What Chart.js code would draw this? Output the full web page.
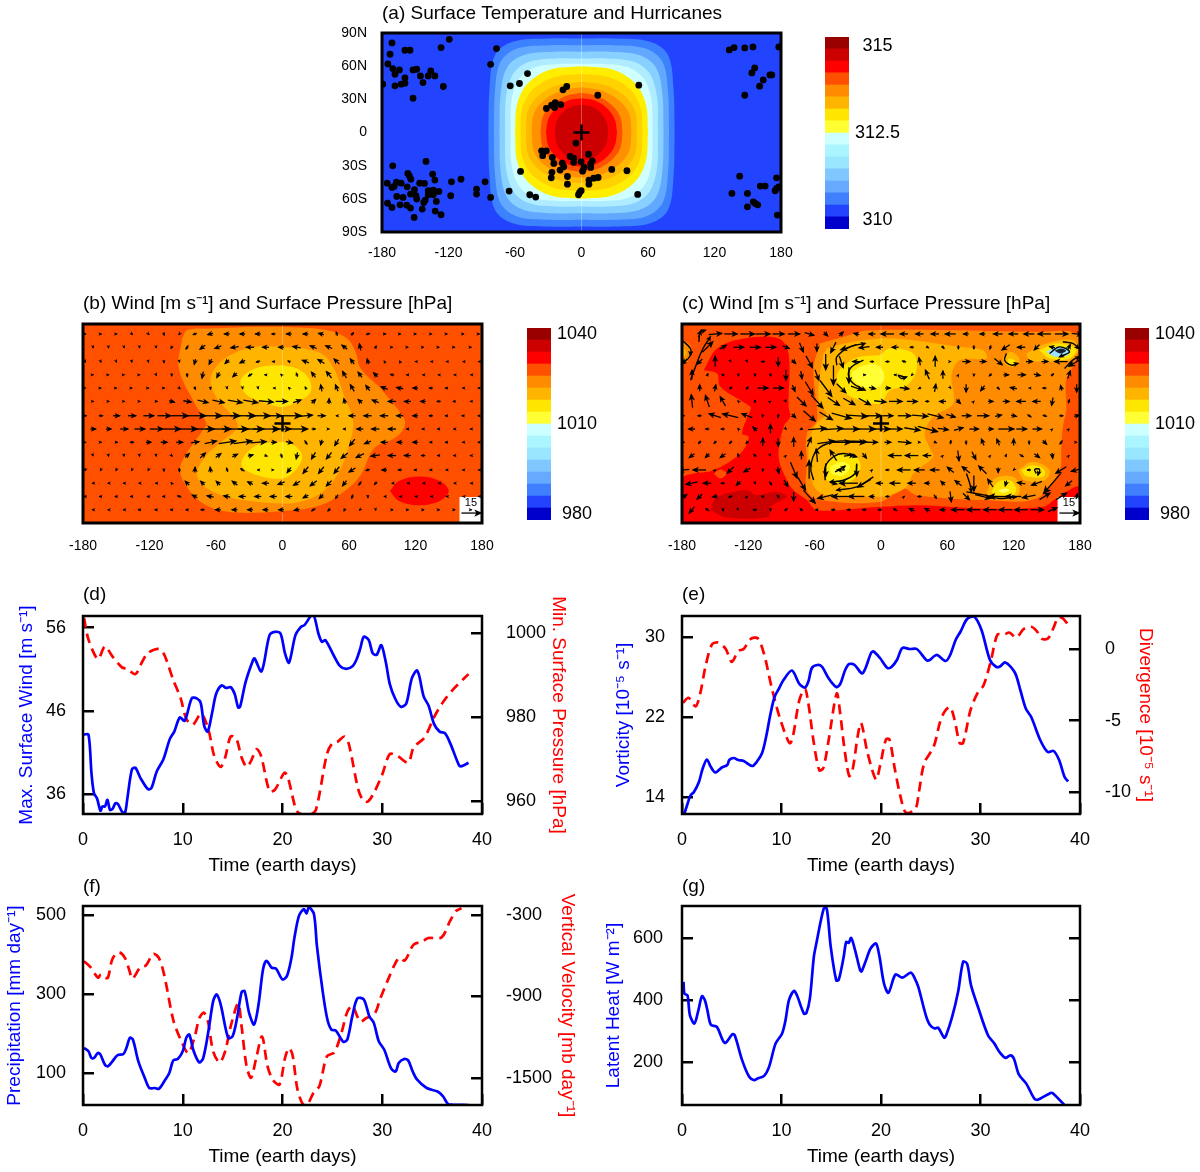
<!DOCTYPE html>
<html>
<head>
<meta charset="utf-8">
<script src="https://cdn.jsdelivr.net/npm/chart.js@4/dist/chart.umd.min.js"></script>
<style>
html,body{margin:0;padding:0;background:#fff;}
canvas{position:absolute;}
</style>
</head>
<body>
<script>
// ---------- tick lists
const lonTicks = [-180, -120, -60, 0, 60, 120, 180];
const latTicks = [-90, -60, -30, 0, 30, 60, 90];
const latLabels = ['90S', '60S', '30S', '0', '30N', '60N', '90N'];
const timeTicks = [0, 10, 20, 30, 40];

// ---------- colour bars (bottom to top)
const barColors = ['#0000cc', '#2244ff', '#4080ff', '#66aaff', '#7fc8ff', '#99e6ff', '#aaf5ff', '#ccffff',
    '#ffff33', '#ffe600', '#ffb400', '#ff8c00', '#ff5000', '#ff0000', '#cc0000', '#990000'];
const tempLevels = [309.74, 310.09, 310.43, 310.78, 311.12, 311.47, 311.81, 312.16, 312.5, 312.85, 313.19, 313.54, 313.88, 314.23, 314.57, 314.92, 315.26];
const pressLevels = [978, 982, 986, 990, 994, 998, 1002, 1006, 1010, 1014, 1018, 1022, 1026, 1030, 1034, 1038, 1042];
const tempBarTicks = [310, 312.5, 315];
const pressBarTicks = [980, 1010, 1040];

// ---------- panel (a): temperature contours, north-east quarter of each band [lon, lat]
const tempBands = [
    ['#3c82ff', [[84,0],[83,40],[78,70],[62,82],[30,85],[0,85]]],
    ['#62a8ff', [[79,0],[78,38],[73,64],[58,76],[28,79],[0,79]]],
    ['#88d0ff', [[74,0],[73,35],[67,59],[52,70],[25,73],[0,73]]],
    ['#b0ecff', [[69,0],[68,33],[61,54],[47,64],[23,67],[0,67]]],
    ['#d0ffff', [[64,0],[63,30],[56,49],[42,59],[20,62],[0,62]]],
    ['#ffee00', [[60,0],[58,26],[48,45],[28,57],[0,60]]],
    ['#ffd200', [[55,0],[53.5,22],[44,39],[25,50],[0,53]]],
    ['#ffb800', [[50,0],[48.5,19],[39,33],[21,43],[0,46]]],
    ['#ff9000', [[45,0],[43,17],[34,29],[18,38],[0,41]]],
    ['#ff5000', [[37,0],[35,14],[27,25],[14,33],[0,36]]],
    ['#ff0000', [[32,0],[30,12],[23,22],[12,29],[0,31]]],
    ['#cc0000', [[24,0],[22.5,10],[17,18],[10,23],[0,25]]]
];
const hurricanes = [[-171,81],[-172.7,70.8],[-174.7,62],[-170.3,57.8],[-164.3,56.6],[-168.3,52.7],[-159.3,74.4],[-154.7,74.4],[-126.7,76.8],[-119.3,84.3],
    [-179.3,43.7],[-168.3,42.2],[-162.7,43.7],[-159.3,44.6],[-159.3,49.4],[-152,31],[-152,56.6],[-148.7,57.2],[-145.3,51.2],[-143,45.2],[-138.3,51.2],[-136,55.7],[-132.3,51.2],[-124.7,41.6],
    [-76.7,75.9],[-82,61.7],[-48.7,53.3],[-56,44.3],[-64.3,42.2],[-13.3,41.6],[-16.7,38.6],[14.7,33.7],[51.7,42.8],[-18.7,25.3],[-23.7,27.1],[-27,24.7],[-24.3,22.6],[-31.7,21.7],[-5,-9.6],
    [-36,-16.6],[-31.7,-16.6],[-35,-21],[-26.3,-22.6],[-25,-28],[-10.3,-21.7],[-7,-23.5],[6.3,-19.6],[-7,-27],[-0.3,-26.5],[9.7,-25.6],[8.3,-28.6],[-17.3,-27.7],[-16,-31],[-19.3,-34],[2.3,-31.6],[1,-35],[8.3,-31.6],[27.3,-33.4],[41,-34.6],
    [-26.7,-36],[-27.3,-41],[-12.7,-39.8],[-12.7,-46.7],[15,-40.7],[11,-41.3],[6.7,-43],[6.7,-46.7],[-55,-35.2],[-0.3,-52.7],[-1.7,-54.2],[-2.7,-56.3],[50.7,-56],[-65.3,-53],[-46.7,-56.3],[-41.3,-58.4],[-82,-58.7],[-87,-44.6],[-94.7,-51.2],[-94.7,-55.7],
    [-170.3,-30.1],[-140.3,-26.2],[-156.7,-37],[-155.3,-39.2],[-154,-42.2],[-134.3,-37.7],[-132.3,-43],[-117.3,-44.6],[-108.7,-42.2],[-175.3,-45.8],[-171,-49.7],[-169,-48.8],[-167,-44.9],[-162.7,-45.8],[-157.3,-49.1],[-146,-45.8],[-141.7,-46.1],[-150.7,-51.8],[-154.3,-55.7],[-149.3,-57.2],[-148.7,-60.2],[-138.3,-52.7],[-138.3,-56.3],[-133.7,-52.1],[-133.7,-56.3],[-128.7,-53.3],[-118,-57.2],[-166.7,-57.8],[-161,-58.7],[-175,-63.9],[-171,-67.8],[-163.7,-65.4],[-157.7,-65.7],[-154.3,-68.4],[-143.7,-69.3],[-142.3,-63.3],[-141,-61.1],[-131,-62.3],[-132,-71.1],[-126.7,-74.4],[-151,-76.8],
    [133.3,74.7],[137.7,76.8],[147.3,76.5],[154.7,77.4],[178,77.4],[156.3,58.4],[153.7,53.9],[170,52.1],[171.7,52.1],[164,47.6],[160.7,41.9],[147.3,33.7],
    [142.7,-39.5],[135.7,-55.1],[149.7,-55.1],[161.3,-48.5],[165.7,-48.5],[176,-41],[178,-49.1],[176,-50.6],[174.7,-52.7],[155,-62.7],[156.7,-64.2],[159,-65.4],[149.7,-67.2],[176.7,-74.7]];

// ---------- panel (b): pressure regions [lon, lat]
const bRegions = [
    ['#ff8c00', [[-90.5,77],[-86,84.4],[-65,85.9],[-20,87.4],[-2,87.4],[40.3,84.4],[58.3,76.9],[65.9,64.8],[70.4,49.7],[88.4,31.7],[109.5,4.5],[109.5,-4.5],[100.5,-13.6],[82.4,-22.6],[70.4,-46.7],[55.3,-61.8],[34.3,-73.9],[-1.8,-79.3],[-50,-79.9],[-74,-70.8],[-89,-52.8],[-92,-37.7],[-71,-4.5],[-68.6,0],[-80,19.6],[-93.5,49.7],[-90.5,77]]],
    ['#ffb400', [[0,69.3],[-25.9,69.3],[-49.9,60.3],[-62,48.2],[-65,37.7],[-59,22.6],[-47,9],[-41,1.5],[-41,-4.5],[-53,-15],[-71,-31.7],[-77,-46.7],[-68,-58.8],[-44,-67.8],[0,-72.4],[16.2,-70.8],[34.3,-63.3],[49.3,-46.7],[58.3,-25.6],[63.8,1.5],[55.3,25.6],[47.8,46.7],[37.3,61.8],[19.2,67.8],[0,69.3]]],
    ['#ffe600', [[0,52.8],[-19.8,51.3],[-34.9,43.7],[-37.9,36.2],[-31.9,25.6],[-13.8,18.1],[0,15],[13.2,19.6],[25.3,28.6],[23.8,40.7],[13.2,49.7],[0,52.8]]],
    ['#ffe600', [[0,-16.6],[-22.9,-19.6],[-34.9,-30.1],[-36.4,-39.2],[-22.9,-46.7],[0,-49.7],[13.2,-40.7],[17.7,-28.6],[10.2,-19.6],[0,-16.6]]],
    ['#ff0000', [[97,-61],[105,-52],[123.6,-48],[142,-52],[150,-61],[142,-70],[123.6,-74],[105,-70],[97,-61]]]
];

// ---------- panel (c): pressure regions [lon, lat]
const cRegions = [
    ['#ff0000', [[-160.3,48.2],[-148.3,67.8],[-124.2,76.9],[-92.6,76.9],[-83.6,63.3],[-83.6,15.1],[-82.1,6],[-88.1,-3],[-92.6,-30.1],[-85.1,-51.3],[-79.1,-60.3],[-67.1,-69.3],[-58,-78.4],[-0.9,-75.4],[35.2,-73.9],[95.3,-76.9],[146.5,-75.4],[158.5,-67.8],[179.5,-57.3],[180,-90],[-180,-90],[-180,-50],[-169.3,-45.2],[-151.3,-42.2],[-127.2,-27.1],[-119.7,-12.1],[-125.7,-9],[-118.2,12.1],[-118.2,15.1],[-145.3,33.2],[-148.3,45.2],[-160.3,48.2]]],
    ['#ff8c00', [[-55,72.4],[-61,51.3],[-59.5,27.1],[-58,3],[-67.1,-9],[-67.1,-36.2],[-67.1,-60.3],[-55,-69.3],[-0.9,-70.8],[20.2,-58.8],[32.2,-64.8],[95.3,-69.3],[140.5,-67.8],[161.5,-42.2],[163,-24.1],[164.5,-3],[167.5,12.1],[167.5,39.2],[173.5,51.3],[178,63.3],[176.5,81.4],[140.5,82.9],[-9.9,84.4],[-34,78.4],[-55,72.4]]],
    ['#ffb400', [[-52,63.3],[-46,69.3],[-0.9,76.9],[29.2,75.4],[71.3,69.3],[92.3,66.3],[95.3,58.8],[71.3,57.3],[63.8,43.7],[65.3,18.1],[47.2,6],[39.7,-9],[44.2,-22.6],[47.2,-30.1],[29.2,-45.2],[23.2,-57.3],[8.1,-64.8],[-9.9,-66.3],[-18.9,-64.8],[-43,-66.3],[-58,-60.3],[-64.1,-45.2],[-65.6,-27.1],[-64.1,-12.1],[-58,0],[-49,9],[-55,15.1],[-56.5,33.2],[-52,63.3]]],
    ['#ffe600', [[-0.9,61.8],[-18.9,60.3],[-31,54.3],[-40,43.7],[-35.5,30.1],[-18.9,21.1],[-0.9,18.1],[8.1,30.1],[23.2,34.7],[32.2,48.2],[29.2,63.3],[8.1,67.8],[-0.9,61.8]]],
    ['#ffff33', [[-18.9,51.3],[-26.5,45.2],[-22,36.2],[-6,31.7],[2,38],[2,47],[-6,54],[-18.9,51.3]]],
    ['#ffe600', [[-49,-36.2],[-37,-27.1],[-22,-30.1],[-18.9,-42.2],[-31,-54.3],[-46,-52.8],[-52,-45.2],[-49,-36.2]]],
    ['#ffff33', [[-46,-39.2],[-35.5,-34.7],[-28,-39.2],[-34,-46.7],[-44.5,-45.2],[-46,-39.2]]],
    ['#ffb400', [[95.3,-63.3],[102.9,-49.7],[119.4,-48.2],[125.4,-57.3],[122.4,-66.3],[101.4,-67.8],[95.3,-63.3]]],
    ['#ffe600', [[99.8,-61.8],[105.9,-52.8],[116.4,-51.3],[122.4,-58.8],[119.4,-64.8],[104.4,-64.8],[99.8,-61.8]]],
    ['#ffff66', [[105.9,-60.3],[113.4,-58.8],[116.4,-60.3],[110.4,-62.7],[105.9,-60.3]]],
    ['#ffb400', [[123.9,-42.2],[137.4,-34.7],[152.5,-42.2],[148,-51.3],[129.9,-51.3],[123.9,-42.2]]],
    ['#ffe600', [[126.9,-42.2],[137.4,-37.7],[148,-42.2],[146.5,-48.2],[131.4,-47.6],[126.9,-42.2]]],
    ['#ffb400', [[131.4,63.3],[149.5,72.4],[173.5,75.4],[178.6,66.3],[170.5,57.3],[152.5,55.8],[134.4,57.3],[131.4,63.3]]],
    ['#ffe600', [[143.5,66.3],[158.5,72.4],[176.5,67.8],[170.5,58.8],[152.5,58.8],[143.5,66.3]]],
    ['#a0e0ff', [[149.5,64.8],[158.5,69.3],[170.5,66.9],[169,61.8],[157,60.3],[149.5,64.8]]],
    ['#112233', [[157,65.7],[163,67.8],[167.5,65.7],[162.1,63.3],[157,65.7]]],
    ['#ffb400', [[110.4,60.3],[117.9,64.8],[125.4,57.3],[119.4,51.3],[111.9,54.3],[110.4,60.3]]],
    ['#ffe600', [[114.9,58.8],[120.9,57.3],[119.4,53.4],[114.9,54.9],[114.9,58.8]]],
    ['#ff8c00', [[-180,75.4],[-173.8,72.4],[-170.8,64.8],[-175.3,55.8],[-180,54.3]]],
    ['#ffb400', [[-180,71],[-176,64],[-180,58]]],
    ['#cc0000', [[-154.3,-78.4],[-149.8,-67.8],[-133.2,-61.8],[-121.2,-60.3],[-112.2,-64.8],[-95.6,-61.8],[-85.1,-66.3],[-100.2,-75.4],[-101.7,-84.4],[-139.2,-85],[-154.3,-78.4]]],
    ['#ff5000', [[-151.3,-45.2],[-145.3,-41.6],[-139.8,-45.2],[-145.3,-49.7],[-151.3,-45.2]]]
];

// ---------- wind fields, m/s, rows north to south; rows alternate between the two longitude lists
const windLats = [81, 69, 56, 44, 32, 20, 7, -5, -17, -29, -42, -54, -66, -78];
const windLonsA = [-178,-164,-150,-136,-121,-107,-93,-79,-65,-50,-36,-22,-8,6,21,35,49,63,77,92,106,120,134,148,163,177];
const windLonsB = [-171,-157,-143,-129,-114,-100,-86,-72,-58,-43,-29,-15,-1,13,28,42,56,70,84,99,113,127,141,155,170];
const bU = [
    [1,1,1,1,1,.5,-1,-3,-4,-4,-4,-4,-3,-4,-4,-4,-1,2,3,2,1,1,1,1,1,1],
    [.2,.2,.2,.2,.2,-1,-2,-4,-5,-6,-6,-5,-4,-6,-5,-5,-4,-1,1,.5,.5,.5,.5,.5,.5],
    [.5,.5,.5,.2,.2,.2,.2,-1,-2,-3,-4,-3,-2,-2,-5,-5,-4,-3,-1,-.5,-.5,-.5,-.5,-.5,-.5,-.5],
    [.5,.5,.5,.5,.5,.2,.2,-1,-2,-3,-3,-2,-1,-1,-3,-4,-3,-3,-3,-3,-2,-1,-1,-.5,-.5],
    [.5,.5,.5,.5,.5,1,1,1,.2,.2,.2,.2,-.5,-1,-1,-1,-2,-3,-3,-5,-5,-4,-3,-2,-1,-1],
    [1,1,1,1,2,4,6,8,9,11,11,11,9,6,3,.2,-1,-3,-5,-6,-5,-4,-3,-2,-1],
    [2,3,5,6,8,10,13,16,17,19,19,18,12,18,10,6,-1,-5,-6,-6,-5,-4,-3,-2,-2,-1],
    [4,4,6,8,10,13,15,17,19,20,20,20,14,16,3,.3,-2,-5,-6,-6,-2,-2,-2,-1,-1],
    [1,1,2,3,4,5,5,6,9,13,14,12,4,5,2,-1,-3,-4,-5,-5,-4,-4,-2,-2,-1,-1],
    [.2,.2,.2,.2,.2,1,3,4,4,4,4,2,1,-1,-3,-4,-5,-6,-7,-6,-5,-3,-2,-1,-1],
    [-.5,-.5,-.5,-.5,-.5,.2,.2,.2,-.5,-1,-3,-1,.3,-3,-4,-4,-4,-5,-3,-4,-3,-2,-2,-1,-1,-.5],
    [-1,-1,-1,-1,-1,-1,-3,-3,-3,-4,-4,-5,-5,-5,-5,-4,-3,-2,-2,-.5,-.5,-.5,-.5,-.5,-.5],
    [-2,-2,-2,-2,-2,-2,-3,-4,-5,-5,-5,-5,-5,-5,-4,-3,-2,-1,.2,-.5,-.5,-.5,-.5,-.5,-.5,-.5],
    [-1,-1,-1,-2,-2,-2,-2,-3,-4,-4,-4,-4,-4,-4,-3,-2,-1,-1,.2,1,1,1,1,1,1]
];
const bV = [
    [0,0,0,-1,-1,-2,-1,-1,-1,0,0,0,0,0,0,1,3,2,1,0,0,0,0,0,0,0],
    [-1,-1,-1,-1,-1,-2,-3,-3,-2,-1,0,0,0,1,2,2,3,5,2,0,0,0,0,0,0],
    [-1,-1,-1,-1,-1,-2,-1,-4,-4,-3,-2,-1,0,1,2,3,4,4,4,1,1,0,0,0,0,0],
    [0,0,0,0,-1,-2,-3,-5,-4,-3,-2,0,1,3,4,5,5,4,3,1,0,0,0,0,0],
    [0,0,0,0,0,0,-1,-2,-2,-1,-1,-1,0,1,2,5,5,5,4,2,1,0,0,0,0,0],
    [0,0,0,0,0,-1,-1,-2,-2,-2,-2,-1,0,2,3,4,4,3,2,0,0,0,0,0,0],
    [0,0,0,0,0,0,0,0,0,0,0,0,0,0,1,0,0,0,0,0,0,0,0,0,0,0],
    [0,0,0,0,0,0,0,0,0,0,0,0,0,0,0,0,0,0,0,0,0,0,0,0,0],
    [0,0,0,0,0,0,0,1,2,2,2,1,0,-1,-3,-4,-5,-5,-2,0,0,0,0,0,0,0],
    [-.5,-1,-1,-1,-1,-1,3,4,3,2,1,-1,-3,-5,-5,-5,-4,-3,-1,0,0,0,0,0,0],
    [-1,-1,-1,-1,-1,-2,-3,4,4,3,2,0,0,-4,-5,-5,-5,-3,-1,0,0,0,0,0,0,0],
    [0,0,0,0,0,1,3,3,3,3,2,0,-2,-3,-4,-4,-4,-3,-2,0,0,0,0,0,0],
    [0,0,0,0,0,0,1,2,1,1,0,0,0,0,-2,-3,-3,-3,-2,0,0,0,0,0,0,0],
    [0,0,0,0,0,0,0,0,0,0,0,0,0,-1,-2,-2,-2,-1,-1,0,0,0,0,0,0]
];
const cU = [
    [0,2,10,10,11,11,9,9,7,3,3,-4,-5,-10,-6,-6,-6,-8,-4,-4,-7,-7,-8,-10,10,8],
    [0,8,5,8,8,8,5,3,0,-4,-12,-8,-5,-5,-3,2,2,0,0,-1,-6,-6,-4,-4,2],
    [-5,-4,0,.3,.3,3,0,3,5,0,3,-6,-3,-3,-3,-1,0,.3,6,5,6,0,5,5,-10,-12],
    [0,1,-2,0,0,1,0,1,3,0,0,2,0,-2,-1,-3,0,.3,-.3,-2,4,6,5,2,2],
    [0,0,1,2,2,8,8,2,6,9,7,9,5,4,7,-2,1,.3,0,-3,2,-5,-.5,-3,-1,0],
    [-1,-3,-4,-1,0,.5,.5,7,9,9,9,9,9,10,8,-3,-5,3,.3,4,5,-7,-6,-1,1],
    [.3,-3,-9,-12,-8,-.5,-.5,3,9,10,15,16,14,8,10,12,12,7,7,9,5,4,3,3,3,4],
    [-5,-3,-3,-1,-3,0,.5,-2,14,14,15,16,15,10,12,15,8,7,7,4,12,8,7,.3,.3],
    [.3,-2,-2,-2,-2,0,.3,0,3,13,14,13,8,5,10,1,2,.3,.3,-2,-2,0,.3,3,-2,.3],
    [-4,-3,-4,-1,-2,.3,.3,0,-1,-5,8,3,0,-10,-10,-6,.3,1,3,.3,1,3,4,.5,.3],
    [-8,-10,.3,-5,-5,-.5,1,5,0,0,-6,0,.3,-3,-10,-8,-7,-5,-6,-6,0,-.5,-3,0,-8,-8],
    [-9,-6,-3,-3,.3,2,3,6,0,5,-14,-10,-5,-8,-6,-4,-3,-5,0,-4,-1,-6,-8,-13,-5],
    [4,-4,-4,-3,.3,-2,-2,0,9,-12,-14,-12,-4,-3,.3,-3,2,1,5,12,-14,-12,-10,8,8,1],
    [-4,-3,.3,.3,-3,.3,2,-2,-2,-3,-3,-3,-3,-3,-4,-4,-4,-10,-10,-10,-10,-10,10,7,0]
];
const cV = [
    [0,5,1,0,0,0,0,0,-2,-3,3,1,0,0,0,0,0,0,0,0,0,0,0,0,0,-1],
    [0,8,3,0,0,0,-2,-7,-6,-8,-4,-1,0,0,0,-1,-2,-3,-3,-3,-4,0,-4,1,4],
    [-4,-4,8,-.5,-.5,0,-7,-3,-9,-12,-9,0,0,0,1,6,8,0,0,0,-5,0,0,0,0,-7],
    [7,2,1,-2,-2,-2,-8,-6,-8,-15,-12,0,0,0,-1,7,6,.5,-2,-2,0,0,-1,2,6],
    [0,5,5,2,2,0,0,-5,-10,-12,-7,-3,-1,0,-1,-1,6,-.3,-6,-4,-2,1,0,0,4,-6],
    [10,9,7,1,2,.3,-.5,-7,-10,-6,-5,-5,-1,0,0,0,0,-3,.3,0,0,0,0,-6,3],
    [0,0,3,3,3,-2,-3,-3,-8,-6,-4,-1,0,0,0,-1,-3,-2,0,0,1,-1,-2,-1,0,1],
    [0,0,0,1,3,7,-.5,-1,1,1,0,0,0,0,-2,-4,-1,2,0,0,0,0,0,.3,.3],
    [0,-2,-2,-2,-2,6,-6,7,7,2,0,0,0,0,-1,0,-1,3,-3,5,5,5,-3,-3,-3,0],
    [-3,-3,-3,3,2,-.5,.3,6,10,8,1,-4,0,0,0,0,.3,-8,-6,.3,2,-2,-3,-4,.3],
    [-1,0,.3,-5,-3,-2,-5,-12,14,-10,0,-9,.3,0,0,0,0,4,5,6,-4,-.5,0,0,-5,-2],
    [-2,0,0,-3,-1,-3,-5,-10,0,-1,0,-6,0,0,0,0,3,4,-12,6,-4,1,-3,-15,-4],
    [3,-4,-1,-1,.3,1,2,-7,-10,-3,0,0,0,0,.3,0,-3,-8,-5,-3,0,0,-2,5,5,4],
    [-5,2,-2,-.3,0,-2,2,2,0,0,0,0,0,2,2,2,0,0,0,0,0,0,0,3,0]
];
// curved vectors in (c), [lon, lat] polylines ending at the arrow head
const cCurls = [
    [[-15.9,57.3],[-26.5,51.3],[-29.5,43.7],[-25,36.2],[-14.4,30.1]],
    [[-61,-51.3],[-63.5,-39.2],[-58,-24.1],[-43,-16.6],[-25,-16],[-12.9,-16.6]],
    [[-6.9,-48.2],[-22,-57.3],[-40,-60.3]],
    [[-50.5,-51.3],[-50.5,-39.2],[-43,-30.1],[-34,-27.1],[-22,-30.1]],
    [[-22,-36.2],[-23.5,-45.2],[-34,-51.3],[-46,-52.8]],
    [[-41.5,-43.7],[-35.5,-40.7],[-32.5,-38.6]],
    [[-164.8,73.9],[-163.3,82.9],[-158.8,84.4]],
    [[-172.3,39.2],[-167.8,51.3],[-161.8,66.3],[-154.3,78.4]],
    [[-170.8,64.8],[-175,58],[-180,55]],
    [[-180,75.4],[-172.3,67.8],[-172.3,61.8]],
    [[-40,52.8],[-40,60.3],[-28,69.3],[-14.4,72.4]],
    [[113.4,63.3],[111.9,57.3],[117.9,52.8],[123.9,54.3]],
    [[164.5,73.9],[173.5,72.4],[179,67.8]],
    [[166,49.7],[173.5,57.3],[179.5,60.3]],
    [[152.5,63.3],[161.5,69.3],[170.5,64.8],[161.5,60.3]],
    [[20.2,42.2],[15.6,43.7],[18.6,40.7],[23.2,42.2]],
    [[140.5,-45.2],[139,-41.6],[143.5,-41.6],[142,-46.7]],
    [[77.3,-61.8],[93.8,-64.8],[107.4,-67.8],[122.4,-66.3]],
    [[77.3,-45.2],[80.3,-54.3],[81.8,-61.8]]
];
const refArrow = {x: 170, y: -81, u: 15, v: 0};
const refBox = [[159.7,-66.5],[180,-66.5],[180,-90],[159.7,-90],[159.7,-66.5]];
const meridian = [[0,-90],[0,90]];

// ---------- time series
const windT = [.1,.55,.85,1.1,1.4,1.75,1.95,2.2,2.45,2.7,2.95,3.25,3.5,3.9,4.2,4.45,4.9,5.25,5.75,6.5,6.85,7.4,8.05,8.7,9.15,9.7,10.2,10.9,11.4,11.8,12.15,12.5,12.95,13.35,13.9,14.35,14.8,15.2,15.55,15.75,16.3,17.05,17.2,17.9,18.7,19.25,19.8,20.25,20.65,21.3,21.85,22.2,23.05,23.6,23.95,24.3,25.2,25.75,26.4,27.05,27.4,27.8,28.15,28.65,29.05,29.45,29.9,30.35,30.75,31.3,31.85,32.4,32.95,33.45,33.7,34.15,34.65,35.2,35.75,36.3,36.85,37.7,37.95,38.65];
const windV = [43.15,43.15,38.5,36.1,35.5,34,34.5,34.5,35.3,34.1,34.2,34.9,34.8,33.9,33.7,35.5,38.95,39.15,37.95,36.6,36.7,38.75,40.15,42.6,43.5,45.2,44.8,47.5,47.5,46.95,44.2,43.5,45.8,48.05,49.05,48.75,48.85,48.05,46.4,46.5,49.45,52.1,52.3,50.75,55.1,55.5,55.3,52.9,51.8,55.1,56.1,56.3,57.6,55.3,54.3,54.5,52.5,51.4,51.05,51.4,52.1,53.5,54.9,54.5,52.9,52.75,53.9,51.9,49.25,47.45,46.5,46.85,49.85,50.85,50.25,47.75,46.6,44.4,43.5,43.3,42,39.45,39.35,39.75];
const pressT = [.1,.55,1.5,2.2,2.95,3.9,4.45,5.25,5.95,6.5,7.6,8.15,9.05,9.8,10.35,11,11.85,12.6,13.15,13.8,14.25,14.8,15.35,15.9,16.4,16.85,17.4,17.85,18.7,19.25,20.2,20.55,21.3,21.65,22.7,23.35,24.45,25,25.55,26.2,26.65,27.6,28.15,28.6,29.25,30,30.75,31.5,32.6,33.15,34.25,35.2,36.1,37.2,38.65];
const pressV = [1003.6,998.4,993.8,996.8,994.4,991.8,991.4,990.2,993.2,995.2,996.2,994.8,988.8,984.4,979.6,978.2,980.8,976.8,970.8,968.2,970.4,975.4,975,970.4,968.2,969.6,972.4,970.8,962.4,962.8,966.8,965.6,958.4,957.2,956.8,958,971.2,973.8,974.2,975.4,973.6,962.8,960,960,962.4,966.4,971.2,970.8,969.2,972.8,975.2,980,983.6,986.8,990.2];
const vortT = [.2,.5,.85,1.2,1.7,2.05,2.5,2.9,3.35,4,4.55,4.75,5.2,5.65,6.2,7.05,7.5,8.05,8.45,8.9,9.3,9.75,10.2,11.05,11.8,12.35,12.7,13.05,13.6,14.05,14.75,15.5,15.9,16.4,16.8,17.35,18.1,18.45,19,19.25,19.9,20.65,21.05,21.6,22.15,22.9,23.6,24.55,24.9,25.3,25.65,26.5,26.95,27.5,28,28.65,29.35,30.1,30.95,31.6,31.95,32.5,33.45,34,34.55,35.1,36,36.75,37.35,37.9,38.45,38.8];
const vortV = [12.2,13.15,14.15,14.5,15.5,16.75,17.75,17,16.45,16.95,17.2,17.7,17.9,17.7,17.6,17.1,17.5,18.4,20,22.35,24,24.85,25.7,26.65,25.3,24.95,25.55,26.9,27.2,27.05,25.85,25,25.3,26.7,27.3,27.2,26.35,26.9,28.4,28.55,27.9,26.9,27,27.7,28.9,28.8,28.8,27.7,27.7,28.05,28.2,27.6,28.2,29.7,30.55,31.8,32.05,30.7,27.7,27,27.05,27.45,26.45,24.7,22.85,22,19.7,18.5,18.6,17.7,16,15.55];
const divT = [.1,.65,1.35,1.8,2.35,3,3.65,4.4,5,5.65,6.2,6.9,7.6,8.25,9,9.9,10.9,11.8,12.35,12.7,13.25,13.8,14.2,14.75,15.55,15.9,16.3,16.8,17.15,17.65,18,18.65,19.5,19.9,20.5,20.85,21.4,21.95,22.5,23.45,23.8,24.35,25.3,25.95,26.4,26.95,27.4,27.9,28.25,29,29.75,30.3,31.05,31.7,32.35,32.9,33.6,34.35,35.1,35.65,36.2,36.8,37.35,37.8,38.25,38.8];
const divV = [-3.75,-3.4,-4,-3.2,-1.25,.3,.45,0,-.9,-.15,0,.7,.75,-.35,-2.65,-4.95,-6.55,-3.55,-2.75,-3.8,-6.55,-8.45,-8.3,-6.3,-3.1,-4.5,-6.8,-8.85,-8.4,-6.1,-5.15,-7.25,-9.1,-8.15,-6.3,-6.3,-8.4,-10.25,-11.4,-11.15,-10,-7.95,-6.8,-5.05,-4.35,-4.05,-4.95,-6.55,-6.55,-4.25,-3,-2.55,-.8,1,1,1.15,.8,1.4,1.55,1.25,.7,.75,1.5,2.2,2.15,1.7];
const precipT = [.1,.55,.85,1.1,1.5,1.75,2.2,2.5,2.95,3.45,4.05,4.35,4.7,5,5.55,6.2,6.65,7.2,7.6,8.15,8.65,9.05,9.5,10,10.35,10.65,11.1,11.65,12.05,12.6,13.05,13.4,13.8,14.55,15,15.45,15.9,16.2,16.65,17.15,17.6,18.05,18.4,18.9,19.35,20,20.45,20.9,21.2,21.65,22.15,22.4,22.65,23.15,23.45,24.05,24.5,24.9,25.35,26.1,26.5,27,27.5,28.15,28.7,29.15,29.65,30.2,30.9,31.35,31.65,32.2,32.6,33.05,33.5,34.45,35.55,36.1,36.65,38.65];
const precipV = [163.5,155,138,138,151,146.5,121,117,129.5,145,148,163.5,189,185,129.5,87,62,62,60,79,100,132,135.5,155,189,197.5,155,127,138,210,282,299,274,189,193,240,305,307.5,252.5,223,274,363,384,367,364.5,337,346,392,443,498,515,504,519.5,502.5,422,303,235.5,210,207.5,179,185,244,289,286.5,244,227,180.5,159,111,104,125.5,135.5,132,104,83,62,53,41,21,19];
const omegaT = [.1,.75,1.5,1.8,2.2,2.5,2.95,3.6,4.2,4.65,4.95,5.75,6.3,7.05,7.6,8.15,9.05,9.8,10.55,11.2,11.65,12.1,12.5,13.05,13.7,14.25,14.8,15.55,15.9,16.4,16.85,17.4,17.95,18.5,19.05,19.7,20.25,20.65,21,21.5,22.05,22.5,23.15,23.7,24.45,25.2,25.9,26.5,27,27.8,28.35,29.25,29.8,30.55,31.2,31.7,32.25,33.15,34.05,34.6,35.95,36.8,37.4,37.95];
const omegaV = [-641,-685,-762,-738,-762,-762,-624,-575,-616,-709,-770,-685,-672,-587,-616,-745,-1074,-1220,-1317,-1196,-1062,-1020,-1074,-1305,-1386,-1305,-1123,-952,-1123,-1415,-1500,-1342,-1196,-1415,-1517,-1549,-1354,-1281,-1330,-1585,-1695,-1695,-1605,-1561,-1342,-1312,-1171,-1013,-972,-1086,-1062,-1025,-916,-782,-672,-616,-636,-519,-495,-470,-465,-344,-271,-251];
const heatT = [.15,.25,.55,.8,1.25,1.65,2,2.3,2.55,2.9,3.5,4.3,5.05,5.3,6.05,6.75,7.25,7.55,8.25,8.75,9.4,10.05,10.4,10.75,11.25,11.55,12.25,12.5,12.85,13.25,13.5,14.25,14.55,14.95,15.5,15.75,16.25,16.5,16.75,17,17.4,17.9,18.05,18.55,18.95,19.5,19.85,20.3,20.75,21.45,22.15,23,23.4,23.75,24.5,24.9,25.4,25.75,26.35,26.55,27.15,27.75,28.25,28.65,29.05,29.75,30.75,31.4,31.9,32.5,33,33.35,33.85,34.6,35.4,35.75,37.05,37.3,38.55];
const heatV = [458,420,415,350,324,367,412,399,367,320,313,261,289,286,205,152,141,146,155,184,259,291,334,399,429,415,356,358,404,539,582,695,695,571,463,465,539,587,584,600,560,496,492,533,566,582,539,453,423,482,472,488,469,442,351,320,308,310,278,286,345,426,523,517,447,377,286,259,232,213,221,211,160,130,82,78,100,98,57];

// ---------- helpers
const FONT = '"Liberation Sans", Arial, sans-serif';
function newCanvas(x0, y0, x1, y1) {
    const c = document.createElement('canvas');
    c.width = x1 - x0;
    c.height = y1 - y0;
    c.style.left = x0 + 'px';
    c.style.top = y0 + 'px';
    c.style.width = (x1 - x0) + 'px';
    c.style.height = (y1 - y0) + 'px';
    document.body.appendChild(c);
    return c.getContext('2d');
}
function pts(a, b) { return a.map((v, i) => ({x: v, y: b[i]})); }
function poly(list) { return list.map(p => ({x: p[0], y: p[1]})); }
function mirror(q) {
    const back = q.slice().reverse();
    return poly(q.concat(back.map(p => [-p[0], p[1]])).concat(q.map(p => [-p[0], -p[1]])).concat(back.map(p => [p[0], -p[1]])));
}
function setTicks(list) { return s => { s.ticks = list.map(v => ({value: v})); }; }
// fixed scale box so the plot rectangle lands where it should
function noPad(s) { s.paddingTop = 0; s.paddingBottom = 0; s.paddingLeft = 0; s.paddingRight = 0; }
function fixW(w) { return s => { s.width = w; noPad(s); }; }
function fixH(h) { return s => { s.height = h; noPad(s); }; }
function region(color, data, tension) {
    return {region: true, regionColor: color, data: data, showLine: true, borderWidth: 0, pointRadius: 0, tension: tension === undefined ? 0.35 : tension};
}
function windSet(U, V) {
    const d = [];
    windLats.forEach((lat, r) => {
        const lons = r % 2 ? windLonsB : windLonsA;
        lons.forEach((lon, i) => d.push({x: lon, y: lat, u: U[r][i], v: V[r][i]}));
    });
    return {arrows: true, data: d, pointRadius: 0};
}
function drawHead(ctx, x, y, ang, s) {
    ctx.save();
    ctx.translate(x, y);
    ctx.rotate(ang);
    ctx.scale(s, s);
    ctx.beginPath();
    ctx.moveTo(1.5, 0);
    ctx.lineTo(-4.5, -2.6);
    ctx.lineTo(-3, 0);
    ctx.lineTo(-4.5, 2.6);
    ctx.closePath();
    ctx.fill();
    ctx.restore();
}

// polygon fills through the line element, arrows, frame and small note text
const mapPlugin = {
    id: 'mapPlugin',
    beforeDatasetsDraw(chart) {
        const ctx = chart.ctx, a = chart.chartArea;
        ctx.save();
        ctx.beginPath();
        ctx.rect(a.left, a.top, a.right - a.left, a.bottom - a.top);
        ctx.clip();
        chart.data.datasets.forEach((ds, i) => {
            if (!ds.region) return;
            const line = chart.getDatasetMeta(i).dataset;
            line.updateControlPoints(a, 'x');
            ctx.beginPath();
            line.path(ctx);
            ctx.closePath();
            ctx.fillStyle = ds.regionColor;
            ctx.fill();
        });
        ctx.restore();
    },
    afterDatasetsDraw(chart) {
        const ctx = chart.ctx, a = chart.chartArea;
        const X = chart.scales.x, Y = chart.scales.y;
        ctx.save();
        ctx.beginPath();
        ctx.rect(a.left, a.top, a.right - a.left, a.bottom - a.top);
        ctx.clip();
        ctx.strokeStyle = '#000';
        ctx.fillStyle = '#000';
        ctx.lineWidth = 1.3;
        chart.data.datasets.forEach((ds, i) => {
            if (ds.arrows) {
                ds.data.forEach(p => {
                    if (!p.u && !p.v) return;
                    const cx = X.getPixelForValue(p.x), cy = Y.getPixelForValue(p.y);
                    const dx = p.u * 1.27 / 2, dy = -p.v * 1.27 / 2;
                    const len = Math.hypot(dx, dy) * 2;
                    ctx.beginPath();
                    ctx.moveTo(cx - dx, cy - dy);
                    ctx.lineTo(cx + dx, cy + dy);
                    ctx.stroke();
                    drawHead(ctx, cx + dx, cy + dy, Math.atan2(dy, dx), len < 5 ? 0.65 : Math.min(0.9 + len / 40, 1.5));
                });
            }
            if (ds.curl) {
                const el = chart.getDatasetMeta(i).data;
                const e = el[el.length - 1], f = el[el.length - 2];
                drawHead(ctx, e.x, e.y, Math.atan2(e.y - f.y, e.x - f.x), 1);
            }
            if (ds.note) {
                ctx.font = '11px ' + FONT;
                ctx.textAlign = 'center';
                ctx.textBaseline = 'middle';
                ctx.fillText(ds.note, X.getPixelForValue(ds.data[0].x), Y.getPixelForValue(-72));
            }
        });
        ctx.restore();
    },
    afterDraw(chart) {
        const a = chart.chartArea, ctx = chart.ctx;
        ctx.save();
        ctx.strokeStyle = '#000';
        ctx.lineWidth = 3;
        ctx.strokeRect(a.left, a.top, a.right - a.left, a.bottom - a.top);
        ctx.restore();
    }
};

function titleOpts(text, canvasTop, plotTop) {
    return {display: true, text: text, align: 'start', fullSize: false, color: '#000',
        font: {family: FONT, size: 19, weight: 'normal', lineHeight: 1.2},
        padding: {top: 0, bottom: plotTop - canvasTop - 22.8}};
}

function mapPanel(cfg) {
    const top = Math.round(cfg.titleY - 11.4);
    const bottom = cfg.b + 40;
    const ctx = newCanvas(cfg.x0, top, cfg.x1, bottom);
    new Chart(ctx, {
        type: 'scatter',
        data: {datasets: cfg.datasets},
        plugins: [mapPlugin],
        options: {
            responsive: false, animation: false, devicePixelRatio: 1,
            layout: {padding: {right: cfg.x1 - cfg.r}},
            plugins: {legend: {display: false}, tooltip: {enabled: false}, title: titleOpts(cfg.title, top, cfg.t)},
            scales: {
                x: {type: 'linear', min: -180, max: 180, afterBuildTicks: setTicks(lonTicks), afterFit: fixH(bottom - cfg.b),
                    grid: {display: false, drawTicks: false}, border: {display: false},
                    ticks: {padding: cfg.xPad, color: '#000', maxRotation: 0, autoSkip: false, font: {family: FONT, size: 14}}},
                y: {type: 'linear', min: -90, max: 90, afterBuildTicks: setTicks(latTicks), afterFit: fixW(cfg.l - cfg.x0),
                    grid: {display: false, drawTicks: false}, border: {display: false},
                    ticks: {display: !!cfg.latLabels, padding: 15, color: '#000', autoSkip: false, font: {family: FONT, size: 14},
                        callback: v => latLabels[latTicks.indexOf(v)]}}
            }
        }
    });
}

function colorBar(cfg) {
    const ctx = newCanvas(cfg.l, cfg.t - 12, cfg.l + 24 + 70, cfg.b + 12);
    const sets = barColors.map((c, i) => ({data: [[cfg.levels[i], cfg.levels[i + 1]]], backgroundColor: c, stack: 's', barPercentage: 1, categoryPercentage: 1}));
    new Chart(ctx, {
        type: 'bar',
        data: {labels: ['level'], datasets: sets},
        options: {
            responsive: false, animation: false, devicePixelRatio: 1,
            layout: {padding: {top: 12, bottom: 12}},
            plugins: {legend: {display: false}, tooltip: {enabled: false}},
            scales: {
                x: {display: false, stacked: true},
                y: {position: 'right', stacked: false, min: cfg.levels[0], max: cfg.levels[16], afterBuildTicks: setTicks(cfg.ticks), afterFit: fixW(70),
                    grid: {display: false, drawTicks: false}, border: {display: false},
                    ticks: {padding: 6, crossAlign: 'center', color: '#000', font: {family: FONT, size: 18}, callback: v => String(v)}}
            }
        }
    });
}

function yAxis(cfg, side) {
    const a = cfg[side];
    const edge = side === 'left' ? cfg.x0 : cfg.x1;
    return {
        type: 'linear', position: side, min: a.min, max: a.max,
        afterBuildTicks: setTicks(a.ticks),
        afterFit: fixW(side === 'left' ? cfg.l - cfg.x0 : cfg.x1 - cfg.r),
        grid: {drawOnChartArea: false, tickLength: -11, color: '#000', lineWidth: 2.5},
        border: {display: false},
        ticks: {display: !!a.title, padding: a.pad, color: '#000', autoSkip: false, font: {family: FONT, size: 18}, callback: v => String(v)},
        title: {display: !!a.title, text: a.title, color: a.color, font: {family: FONT, size: 19, lineHeight: 1.2},
            padding: {top: Math.abs(a.titleX - edge) - 11.4, bottom: 0}}
    };
}

function seriesPanel(cfg) {
    const top = Math.round(cfg.titleY - 11.4);
    const bottom = cfg.b + 70;
    const ctx = newCanvas(cfg.x0, top, cfg.x1, bottom);
    new Chart(ctx, {
        type: 'scatter',
        data: {datasets: cfg.series.map(s => ({
            data: s.data, yAxisID: s.axis, showLine: true, pointRadius: 0, tension: 0.3,
            borderColor: s.color, borderWidth: 2.7, borderDash: s.dash || []
        }))},
        plugins: [{id: 'frame', afterDraw(chart) {
            const a = chart.chartArea, c = chart.ctx;
            c.save();
            c.strokeStyle = '#000';
            c.lineWidth = 2.5;
            c.strokeRect(a.left, a.top, a.right - a.left, a.bottom - a.top);
            c.restore();
        }}],
        options: {
            responsive: false, animation: false, devicePixelRatio: 1,
            plugins: {legend: {display: false}, tooltip: {enabled: false}, title: titleOpts(cfg.title, top, cfg.t)},
            scales: {
                x: {type: 'linear', min: 0, max: 40, afterBuildTicks: setTicks(timeTicks), afterFit: fixH(bottom - cfg.b),
                    grid: {drawOnChartArea: false, tickLength: -11, color: '#000', lineWidth: 2.5},
                    border: {display: false},
                    ticks: {padding: 26, color: '#000', maxRotation: 0, autoSkip: false, font: {family: FONT, size: 18}},
                    title: {display: true, text: 'Time (earth days)', color: '#000', font: {family: FONT, size: 19, lineHeight: 1.2}, padding: {top: 0, bottom: 6.5}}},
                y: yAxis(cfg, 'left'),
                y1: yAxis(cfg, 'right')
            }
        }
    });
}

// ---------- (a)
const crossSet = {data: [{x: 0, y: 0}], pointStyle: 'cross', pointRadius: 8, pointBorderColor: '#000', pointBorderWidth: 2.5, rotation: 0};
const meridianSet = {data: poly(meridian), showLine: true, borderColor: 'rgba(255,255,255,0.3)', borderWidth: 1, pointRadius: 0};
const aSets = [region('#2244ff', poly([[-180,-90],[180,-90],[180,90],[-180,90]]), 0)]
    .concat(tempBands.map(b => region(b[0], mirror(b[1]))))
    .concat([crossSet, {data: poly(hurricanes), pointRadius: 3.4, pointBackgroundColor: '#000', pointBorderWidth: 0}, meridianSet]);
mapPanel({x0: 340, x1: 810, l: 382, r: 781, t: 33, b: 232, titleY: 13, title: '(a) Surface Temperature and Hurricanes', latLabels: true, xPad: 13, datasets: aSets});
colorBar({l: 825, t: 37, b: 229, levels: tempLevels, ticks: tempBarTicks});

// ---------- (b)
function windSets(regions, U, V, extra) {
    return [region('#ff5000', poly([[-180,-90],[180,-90],[180,90],[-180,90]]), 0)]
        .concat(regions.map(r => region(r[0], poly(r[1]))))
        .concat(extra || [])
        .concat([region('#ffffff', poly(refBox), 0), windSet(U, V), crossSet,
            {arrows: true, note: '15', data: [refArrow], pointRadius: 0}, meridianSet]);
}
mapPanel({x0: 40, x1: 510, l: 83, r: 482, t: 324, b: 523, titleY: 303, title: '(b) Wind [m s⁻¹] and Surface Pressure [hPa]', xPad: 14.6, datasets: windSets(bRegions, bU, bV)});
colorBar({l: 527, t: 328, b: 520, levels: pressLevels, ticks: pressBarTicks});

// ---------- (c)
const curlSets = cCurls.map(c => ({curl: true, data: poly(c), showLine: true, tension: 0.4, borderColor: '#000', borderWidth: 1.4, pointRadius: 0}));
mapPanel({x0: 640, x1: 1110, l: 682, r: 1080, t: 324, b: 523, titleY: 303, title: '(c) Wind [m s⁻¹] and Surface Pressure [hPa]', xPad: 14.6, datasets: windSets(cRegions, cU, cV, curlSets)});
colorBar({l: 1125, t: 328, b: 520, levels: pressLevels, ticks: pressBarTicks});

// ---------- (d) to (g)
const BLUE = '#0000ff', RED = '#ff0000';
seriesPanel({x0: 0, x1: 600, l: 83, r: 482, t: 616, b: 814, titleY: 594, title: '(d)',
    left: {min: 33.6, max: 57.4, ticks: [36, 46, 56], pad: 28, title: 'Max. Surface Wind [m s⁻¹]', color: BLUE, titleX: 27},
    right: {min: 957, max: 1004, ticks: [960, 980, 1000], pad: 35, title: 'Min. Surface Pressure [hPa]', color: RED, titleX: 558},
    series: [{data: pts(windT, windV), axis: 'y', color: BLUE}, {data: pts(pressT, pressV), axis: 'y1', color: RED, dash: [10, 6]}]});
seriesPanel({x0: 600, x1: 1200, l: 682, r: 1080, t: 616, b: 814, titleY: 594, title: '(e)',
    left: {min: 12.3, max: 32.1, ticks: [14, 22, 30], pad: 28, title: 'Vorticity [10⁻⁵ s⁻¹]', color: BLUE, titleX: 624},
    right: {min: -11.5, max: 2.3, ticks: [-10, -5, 0], pad: 36, title: 'Divergence [10⁻⁵ s⁻¹]', color: RED, titleX: 1145},
    series: [{data: pts(vortT, vortV), axis: 'y', color: BLUE}, {data: pts(divT, divV), axis: 'y1', color: RED, dash: [10, 6]}]});
seriesPanel({x0: 0, x1: 600, l: 83, r: 482, t: 906, b: 1105, titleY: 886, title: '(f)',
    left: {min: 19, max: 523, ticks: [100, 300, 500], pad: 28, title: 'Precipitation [mm day⁻¹]', color: BLUE, titleX: 15},
    right: {min: -1700, max: -234, ticks: [-1500, -900, -300], pad: 35, title: 'Vertical Velocity [mb day⁻¹]', color: RED, titleX: 567},
    series: [{data: pts(precipT, precipV), axis: 'y', color: BLUE}, {data: pts(omegaT, omegaV), axis: 'y1', color: RED, dash: [10, 6]}]});
seriesPanel({x0: 600, x1: 1200, l: 682, r: 1080, t: 906, b: 1105, titleY: 886, title: '(g)',
    left: {min: 61, max: 703, ticks: [200, 400, 600], pad: 30, title: 'Latent Heat [W m⁻²]', color: BLUE, titleX: 614},
    right: {min: 61, max: 703, ticks: [200, 400, 600]},
    series: [{data: pts(heatT, heatV), axis: 'y', color: BLUE}]});
</script>
</body>
</html>
